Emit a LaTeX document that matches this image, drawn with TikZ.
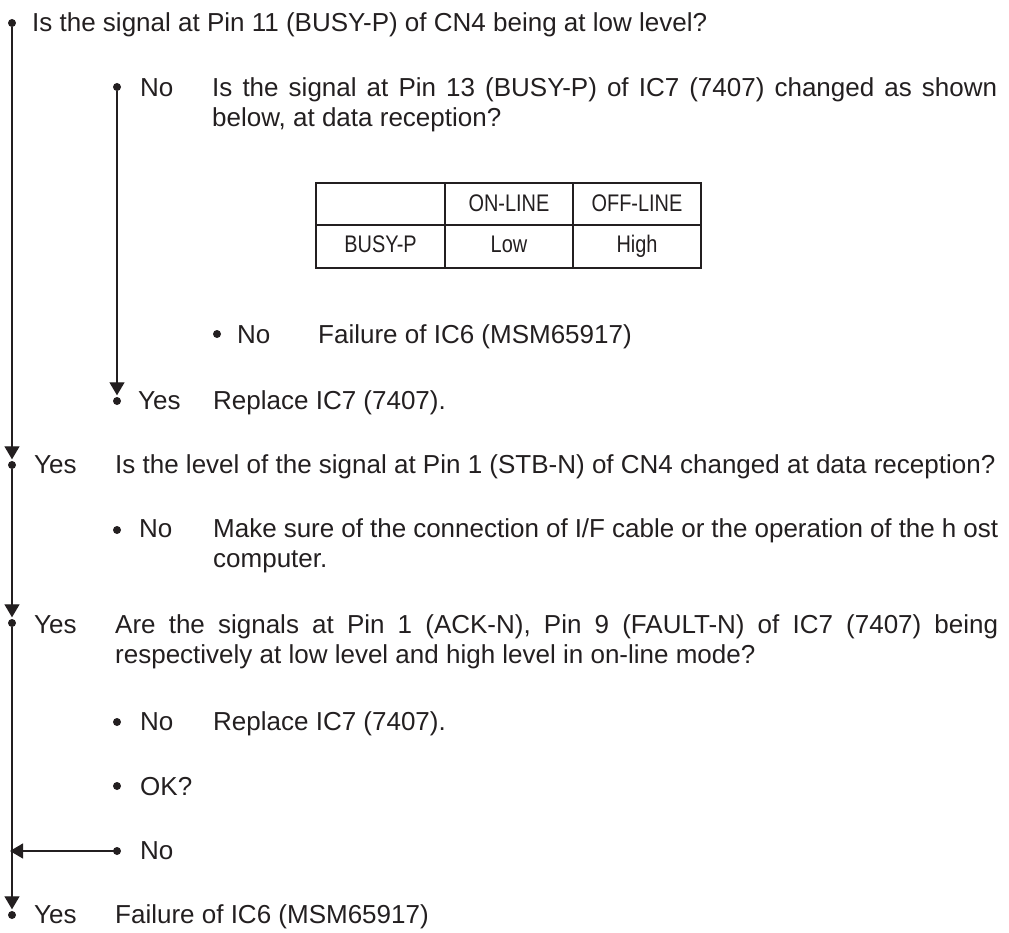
\documentclass[tikz,border=0pt]{standalone}
\usepackage{fontspec}
\setmainfont{Liberation Sans}
\newfontfamily\tabfont[FakeStretch=0.83]{Liberation Sans}
\usetikzlibrary{arrows.meta}
\definecolor{ink}{RGB}{35,31,32}
\begin{document}
\begin{tikzpicture}[x=1pt,y=-1pt,
  every node/.style={text=ink},
  dot/.style={circle,fill=ink,draw=none,inner sep=0pt,minimum size=8pt},
  txt/.style={anchor=base west,inner sep=0pt,font=\fontsize{26}{30}\selectfont},
  parasmall/.style={txt,text width=785pt,align=justify},
  parabig/.style={txt,text width=883pt,align=justify},
  flow/.style={draw=ink,line width=1.3pt},
  tip/.style={flow,-{Triangle[width=15pt,length=13pt]},shorten >=0pt},
  cell/.style={anchor=base,inner sep=0pt,font=\tabfont\fontsize{24}{28}\selectfont},
  tabout/.style={draw=ink,line width=2pt},
  tabin/.style={draw=ink,line width=1.2pt}
]
\useasboundingbox (0,0) rectangle (1009,933);

% main question
\node[dot] (d0) at (12,23) {};
\node[txt] (q0) at (32,32) {Is the signal at Pin 11 (BUSY-P) of CN4 being at low level?};

% No branch
\node[dot] (d1) at (117,87) {};
\node[txt] (n1) at (140,97) {No};
\node[parasmall] (q1) at (212,97) {Is the signal at Pin 13 (BUSY-P) of IC7 (7407) changed as shown\linebreak below, at data reception?};

% table
\draw[tabin] (445,183) -- (445,268);
\draw[tabin] (573,183) -- (573,268);
\draw[tabin] (316,225) -- (701,225);
\draw[tabout] (316,183) rectangle (701,268);
\node[cell] (c12) at (509,212) {ON-LINE};
\node[cell] (c13) at (637,212) {OFF-LINE};
\node[cell] (c21) at (380.5,253) {BUSY-P};
\node[cell] (c22) at (509,253) {Low};
\node[cell] (c23) at (637,253) {High};

\node[dot] (d2) at (217,334) {};
\node[txt] (n2) at (237,343) {No};
\node[txt] (a2) at (318,343) {Failure of IC6 (MSM65917)};

\node[dot] (d3) at (117,401) {};
\node[txt] (y3) at (138,409) {Yes};
\node[txt] (a3) at (213,409) {Replace IC7 (7407).};
\draw[tip,shorten >=1.5pt] (d1) -- (d3);

% Yes 1
\node[dot] (m1) at (12,465) {};
\node[txt] (ym1) at (34,473) {Yes};
\node[txt] (q2) at (115,473) {Is the level of the signal at Pin 1 (STB-N) of CN4 changed at data reception?};

\node[dot] (d4) at (117,530) {};
\node[txt] (n4) at (139,537) {No};
\node[parasmall] (a4) at (213,537) {Make sure of the connection of I/F cable or the operation of the h ost\linebreak computer.};

% Yes 2
\node[dot] (m2) at (12,623) {};
\node[txt] (ym2) at (34,633) {Yes};
\node[parabig] (q3) at (115,633) {Are the signals at Pin 1 (ACK-N), Pin 9 (FAULT-N) of IC7 (7407) being\linebreak respectively at low level and high level in on-line mode?};

\node[dot] (d5) at (117,722) {};
\node[txt] (n5) at (140,730) {No};
\node[txt] (a5) at (213,730) {Replace IC7 (7407).};

\node[dot] (d6) at (117,786) {};
\node[txt] (ok) at (140,795) {OK?};

\node[dot] (d7) at (117,851) {};
\node[txt] (n7) at (140,859) {No};
\coordinate (j7) at (10,851);
\draw[tip] (d7.center) -- (j7);

% Yes 3
\node[dot] (m3) at (12,915) {};
\node[txt] (ym3) at (34,923) {Yes};
\node[txt] (a6) at (115,923) {Failure of IC6 (MSM65917)};

% main line
\draw[tip,shorten >=1.5pt] (d0) -- (m1);
\draw[tip,shorten >=1.5pt] (m1) -- (m2);
\draw[tip,shorten >=1.5pt] (m2) -- (m3);
\end{tikzpicture}
\end{document}
